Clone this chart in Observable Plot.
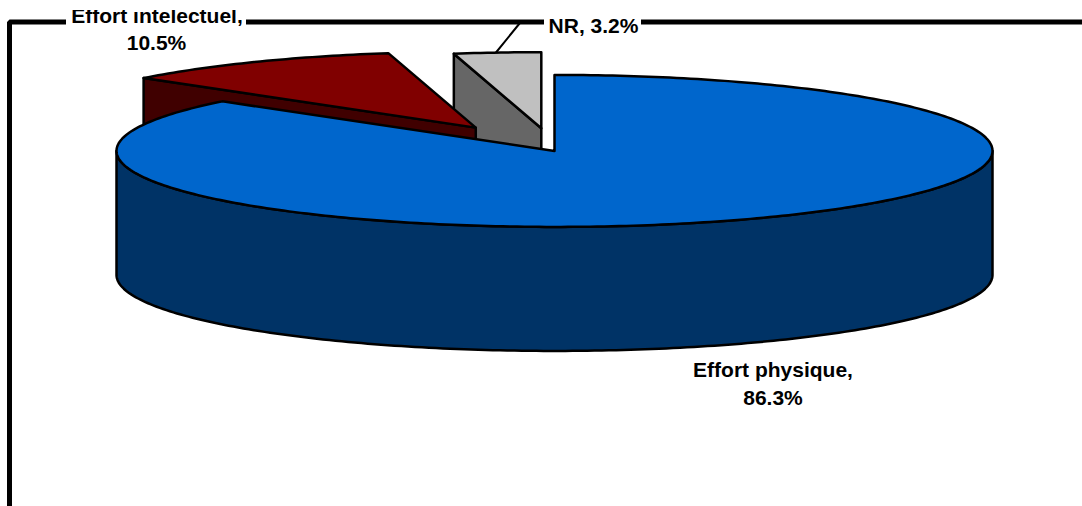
<!DOCTYPE html>
<html>
<head>
<meta charset="utf-8">
<style>html,body{margin:0;padding:0;background:#fff;overflow:hidden}svg{display:block}</style>
<script src="https://cdn.jsdelivr.net/npm/d3@7"></script>
<script src="https://cdn.jsdelivr.net/npm/@observablehq/plot@0.6"></script>
</head>
<body>
<div id="chart"></div>
<script>
const categories = ["Effort physique", "Effort intelectuel", "NR"];
const shares = [86.3, 10.5, 3.2];
const explode = [0, 0.355, 0.3];

const cx = 554, cy = 150.4, rx = 438, ry = 76, depth = 124;
const total = d3.sum(shares);
const angles = [0];
shares.forEach(s => angles.push(angles[angles.length - 1] + s / total * 2 * Math.PI));

const at = (a, c = [cx, cy], d = 0) => ({x: c[0] + rx * Math.sin(a), y: c[1] - ry * Math.cos(a) + d});
const arcPts = (a0, a1, c, d = 0) => {
  const n = Math.max(2, Math.ceil(Math.abs(a1 - a0) * 60));
  return d3.range(n + 1).map(i => at(a0 + (a1 - a0) * i / n, c, d));
};
const centers = shares.map((_, i) => {
  const m = (angles[i] + angles[i + 1]) / 2;
  return [cx + explode[i] * rx * Math.sin(m), cy - explode[i] * ry * Math.cos(m)];
});
const closed = pts => [...pts, pts[0]];
const poly = (pts, fill, strokeWidth = 2.5) =>
  Plot.line(closed(pts), {x: "x", y: "y", fill, stroke: "#000", strokeWidth, strokeLinejoin: "round", curve: "linear"});
const topFace = i => {
  const p = {x: centers[i][0], y: centers[i][1]};
  return [p, ...arcPts(angles[i], angles[i + 1], centers[i])];
};
const wall = (i, a) => {
  const c = centers[i], apex = {x: c[0], y: c[1]}, rim = at(a, c);
  return [rim, apex, {x: apex.x, y: apex.y + depth}, {x: rim.x, y: rim.y + depth}];
};
const side = [...arcPts(Math.PI / 2, 3 * Math.PI / 2, [cx, cy]),
              ...arcPts(3 * Math.PI / 2, Math.PI / 2, [cx, cy], depth)];

const frameLine = [{x: 9, y: 506}, {x: 9, y: 21.6}, {x: 1082, y: 21.6}];
const gaps = [
  {x1: 66, x2: 246, y1: 0, y2: 27},
  {x1: 544, x2: 641, y1: 0, y2: 27}
];
const leader = [{x: 519, y: 23}, {x: 495.5, y: 52}];
const labelStyle = {x: "x", y: "y", text: "t", fontFamily: "Liberation Sans, Arial, sans-serif", fontWeight: "bold", fontSize: 21, fill: "#000", textAnchor: "middle", lineAnchor: "middle"};
const labels = [
  {x: 772.5, y: 369.5, t: `${categories[0]},`},
  {x: 772.5, y: 398, t: `${shares[0]}%`},
  {x: 156.5, y: 15.3, t: `${categories[1]},`},
  {x: 156, y: 42.3, t: `${shares[1]}%`},
  {x: 593, y: 25.3, t: `${categories[2]}, ${shares[2]}%`}
];

const chart = Plot.plot({
  width: 1082,
  height: 506,
  margin: 0,
  x: {domain: [0, 1082], range: [0, 1082], axis: null},
  y: {domain: [0, 506], range: [0, 506], axis: null},
  style: {background: "#fff"},
  marks: [
    Plot.line(frameLine, {x: "x", y: "y", stroke: "#000", strokeWidth: 5, strokeLinejoin: "miter"}),
    Plot.rect(gaps, {x1: "x1", x2: "x2", y1: "y1", y2: "y2", fill: "#fff"}),
    Plot.line(leader, {x: "x", y: "y", stroke: "#000", strokeWidth: 2}),
    poly(wall(2, angles[2]), "#666666"),
    poly(topFace(2), "#c0c0c0"),
    poly(wall(1, angles[1]), "#400000"),
    poly(topFace(1), "#800000"),
    poly(side, "#003366"),
    poly(topFace(0), "#0066cc"),
    Plot.text(labels, labelStyle),
    Plot.rect([{x1: 66, x2: 246, y1: 0, y2: 10}], {x1: "x1", x2: "x2", y1: "y1", y2: "y2", fill: "#fff"})
  ]
});
document.getElementById("chart").append(chart);
</script>
</body>
</html>
